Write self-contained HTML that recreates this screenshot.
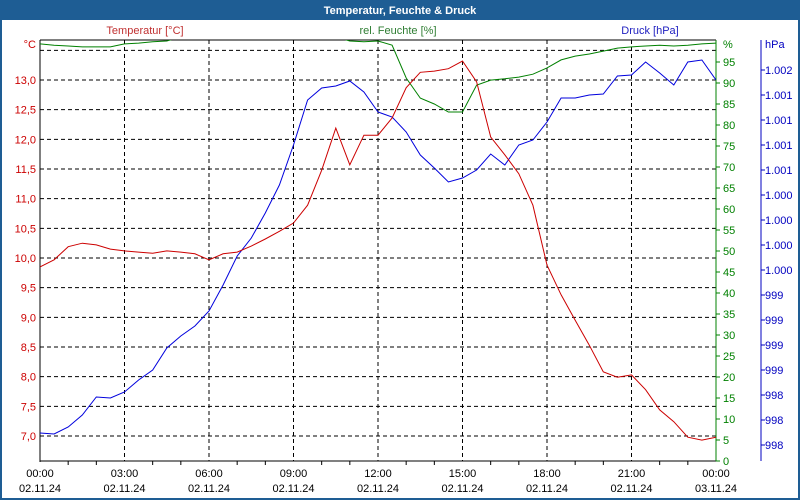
<!DOCTYPE html>
<html><head><meta charset="utf-8"><style>
html,body{margin:0;padding:0;background:#fff}
#wrap{position:relative;width:800px;height:500px;overflow:hidden;font-family:"Liberation Sans",sans-serif}
svg text{font-family:"Liberation Sans",sans-serif;font-size:11px}
</style></head><body>
<div id="wrap">
<svg id="c" width="800" height="500">
<rect x="0" y="0" width="800" height="500" fill="#1e5d94"/>
<rect x="2" y="20" width="796" height="478" fill="#fff"/>
<text x="400" y="14" text-anchor="middle" fill="#fff" font-weight="bold">Temperatur, Feuchte &amp; Druck</text>
<text x="145" y="34" text-anchor="middle" fill="#c03030">Temperatur [°C]</text>
<text x="398" y="34" text-anchor="middle" fill="#2e7d32">rel. Feuchte [%]</text>
<text x="650" y="34" text-anchor="middle" fill="#2020c0">Druck [hPa]</text>
<g id="grid"></g><g id="axes"></g><g id="series"></g>
<defs><clipPath id="pc"><rect x="40" y="40" width="676" height="421"/></clipPath></defs>
</svg></div>
<script>
const hours=[];for(let i=0;i<=48;i++)hours.push(i*0.5);
const tempVals=[9.85,9.97,10.19,10.25,10.22,10.15,10.12,10.10,10.08,10.12,10.10,10.07,9.97,10.07,10.10,10.20,10.32,10.45,10.59,10.89,11.48,12.19,11.57,12.07,12.07,12.36,12.87,13.13,13.15,13.19,13.32,12.97,12.04,11.74,11.42,10.89,9.88,9.38,8.95,8.53,8.08,7.99,8.03,7.78,7.44,7.24,6.98,6.93,6.98];
const humVals=[99.3,99.0,98.8,98.6,98.6,98.6,99.3,99.5,99.8,100.0,101,101,101,101,101,101,101,101,101,101,101,101,100.0,99.8,100.0,99.0,91.2,86.4,85.0,83.1,83.1,89.5,90.7,91.0,91.4,92.1,93.6,95.5,96.4,96.9,97.6,98.3,98.6,98.8,99.0,98.8,99.0,99.3,99.5];
const presVals=[998.12,998.11,998.18,998.30,998.48,998.47,998.53,998.65,998.75,998.97,999.09,999.19,999.34,999.60,999.89,1000.07,1000.32,1000.60,1001.00,1001.45,1001.57,1001.59,1001.64,1001.53,1001.33,1001.28,1001.13,1000.90,1000.77,1000.63,1000.67,1000.75,1000.91,1000.80,1001.00,1001.05,1001.23,1001.47,1001.47,1001.50,1001.51,1001.69,1001.70,1001.83,1001.72,1001.60,1001.83,1001.85,1001.65];
const tempTicks=[7.0,7.5,8.0,8.5,9.0,9.5,10.0,10.5,11.0,11.5,12.0,12.5,13.0];
const humTicks=[0,5,10,15,20,25,30,35,40,45,50,55,60,65,70,75,80,85,90,95];
const presTicks=[1001.75,1001.5,1001.25,1001.0,1000.75,1000.5,1000.25,1000.0,999.75,999.5,999.25,999.0,998.75,998.5,998.25,998.0];
const presLabels=["1.002","1.001","1.001","1.001","1.001","1.000","1.000","1.000","1.000","999","999","999","999","998","998","998"];
const timeTicks=[0,3,6,9,12,15,18,21,24];
const timeLabels=["00:00","03:00","06:00","09:00","12:00","15:00","18:00","21:00","00:00"];
const dateLabels=["02.11.24","02.11.24","02.11.24","02.11.24","02.11.24","02.11.24","02.11.24","02.11.24","03.11.24"];
const NS="http://www.w3.org/2000/svg";
const L=40,R=716,T=40,B=461;
const xS=h=>L+h/24*(R-L);
const yT=v=>80+(13-v)*59.33/0.5*0.5*2/2*1; // 59.33px per 1.0? corrected below
const yTemp=v=>80+(13-v)*59.33;
const yHum=v=>461-v*4.2;
const yPres=v=>70+(1001.75-v)*100;
function mk(tag,attrs,parent,text){const e=document.createElementNS(NS,tag);for(const k in attrs)e.setAttribute(k,attrs[k]);if(text!==undefined)e.textContent=text;document.getElementById(parent).appendChild(e);return e;}
// horizontal grid
for(const v of tempTicks.concat([13.5])){
 const y=yTemp(v);
 const g=mk('line',{x1:L,x2:R,y1:y,y2:y,stroke:'#000','stroke-dasharray':'4,3','stroke-width':1},'grid');
 
 
}
for(let i=1;i<timeTicks.length-1;i++){
 const x=xS(timeTicks[i]);
 const g=mk('line',{x1:x,x2:x,y1:T,y2:B,stroke:'#000','stroke-dasharray':'4,3','stroke-width':1},'grid');
 
 
}
// axes lines
let a=mk('polyline',{points:`${L},${T} ${R},${T}`,stroke:'#000',fill:'none'},'axes');


a=mk('line',{x1:L,x2:L,y1:T,y2:B+1,stroke:'#000'},'axes');


a=mk('line',{x1:L,x2:R,y1:B,y2:B,stroke:'#000'},'axes');


a=mk('line',{x1:R,x2:R,y1:T,y2:B,stroke:'#008000'},'axes');


a=mk('line',{x1:761,x2:761,y1:T,y2:B,stroke:'#0000c0'},'axes');


for(const v of tempTicks){
 const t=mk('text',{x:36,y:yTemp(v)+4,'text-anchor':'end',fill:'#cc0000'},'axes',v.toFixed(1).replace('.',','));
 
 
}
let u=mk('text',{x:36,y:48,'text-anchor':'end',fill:'#cc0000'},'axes','°C');


for(const v of humTicks){
 const y=yHum(v);
 const tk=mk('line',{x1:R,x2:R+4,y1:y,y2:y,stroke:'#008000'},'axes');
 
 
 const t=mk('text',{x:723,y:y+4,fill:'#008000'},'axes',String(v));
 
 
}
u=mk('text',{x:723,y:48,fill:'#008000'},'axes','%');


presTicks.forEach((v,i)=>{
 const y=yPres(v);
 const tk=mk('line',{x1:761,x2:765,y1:y,y2:y,stroke:'#0000c0'},'axes');
 
 
 const t=mk('text',{x:765,y:y+4,fill:'#0000c0'},'axes',presLabels[i]);
 
 
});
u=mk('text',{x:765,y:48,fill:'#0000c0'},'axes','hPa');


for(let h=0;h<=24;h++){
 const x=xS(h);
 const tk=mk('line',{x1:x,x2:x,y1:B,y2:B+(h%3===0?0:4),stroke:'#000'},'axes');
 
 
}
timeTicks.forEach((h,i)=>{
 const x=xS(h);
 const t=mk('text',{x:x,y:477,'text-anchor':'middle',fill:'#000'},'axes',timeLabels[i]);
 
 
 const d=mk('text',{x:x,y:492,'text-anchor':'middle',fill:'#000'},'axes',dateLabels[i]);
 
 
});
function line(vals,yf,color,name){
 const pts=vals.map((v,i)=>xS(hours[i]).toFixed(1)+','+yf(v).toFixed(1)).join(' ');
 const p=mk('polyline',{points:pts,fill:'none',stroke:color,'stroke-width':1,'clip-path':'url(#pc)'},'series');
 
 
}
line(humVals,yHum,'#008000','humidity-line');
line(presVals,yPres,'#0000dd','pressure-line');
line(tempVals,yTemp,'#cc0000','temperature-line');
</script>
</body></html>
